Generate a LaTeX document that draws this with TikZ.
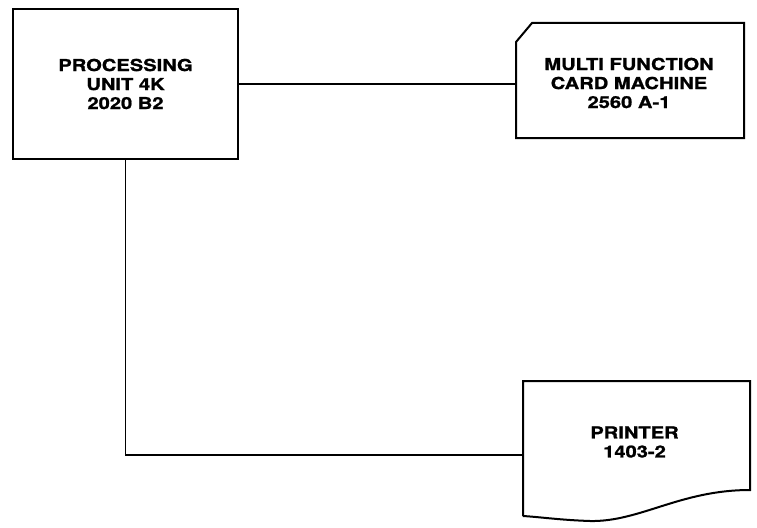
\documentclass[tikz,border=0pt]{standalone}
\usepackage{fontspec}
\setmainfont{TeX Gyre Heros}[FakeStretch=1.22,FakeBold=1.2]
\begin{document}
\begin{tikzpicture}[x=1pt,y=-1pt,
  line width=2pt,
  lbl/.style={font=\bfseries\fontsize{16.5}{19}\selectfont, align=center, inner sep=0pt},
  wire/.style={line width=1.8pt}]
\useasboundingbox (0,0) rectangle (757,527);
% processing unit
\node[draw, minimum width=225pt, minimum height=150pt, inner sep=0pt] (pu) at (125.5,84) {};
\node[lbl] (putxt) at (125.5,84) {PROCESSING\\UNIT 4K\\2020 B2};
% card machine
\node[draw=none, minimum width=226pt, minimum height=113pt, inner sep=0pt] (cm) at (630,80.5) {};
\draw (cm.north west) ++(16,0) coordinate (cmc) -- (cm.north east) -- (cm.south east) -- (cm.south west) -- ([yshift=-19pt]cm.north west) -- cycle;
\node[lbl] (cmtxt) at (629,83) {MULTI FUNCTION\\CARD MACHINE\\2560 A-1};
% printer
\node[draw=none, minimum width=225pt, minimum height=133pt, inner sep=0pt] (pr) at (636.5,448.5) {};
\draw (pr.south west) -- (pr.north west) -- (pr.north east) -- ([yshift=26pt]pr.south east)
  .. controls (680,490) and (640,522) .. (590,521)
  .. controls (560,520) and (540,517) .. (pr.south west);
\node[lbl] (prtxt) at (634.5,442) {PRINTER\\1403-2};
\coordinate (prl) at (pr.west |- 0,455);
% connectors
\draw[wire] (pu.east) -- (pu.east -| cm.west);
\draw[wire] (pu.south) |- (prl);
\end{tikzpicture}
\end{document}
